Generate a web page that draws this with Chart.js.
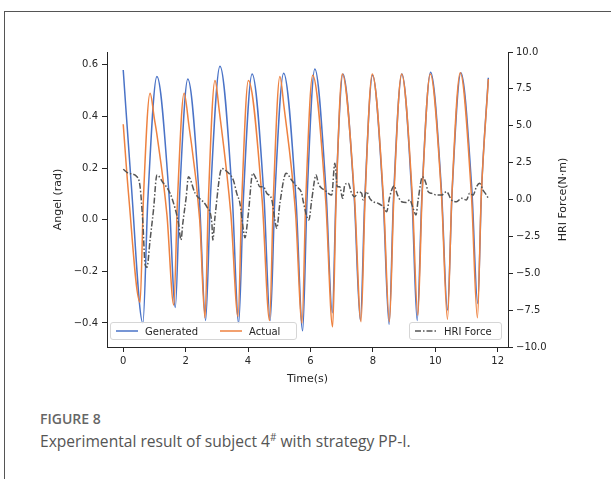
<!DOCTYPE html>
<html>
<head>
<meta charset="utf-8">
<script src="https://cdn.jsdelivr.net/npm/chart.js@4.4.1/dist/chart.umd.min.js"></script>
<style>
  html, body { margin: 0; padding: 0; background: #fff; }
  body { width: 611px; height: 479px; position: relative; overflow: hidden; font-family: "DejaVu Sans", sans-serif; }
  #frame { position: absolute; left: 4px; top: 11px; width: 700px; height: 600px; border-top: 1px solid #555; border-left: 1px solid #555; }
  #wrap { position: absolute; left: 0; top: 0; width: 611px; height: 400px; }
  .legend { position: absolute; height: 18px; background: rgba(255,255,255,0.8); border: 1px solid #d6d6d6; border-radius: 3px; font-size: 10px; color: #262626; display: flex; align-items: center; box-sizing: border-box; }
  .legend svg { display: block; margin: 0 7px 0 5px; }
  .legend span { margin-right: 8px; }
  #fig { position: absolute; left: 40px; top: 409px; font-family: "Open Sans", sans-serif; font-size: 14px; font-weight: 600; color: #666; }
  #cap { position: absolute; left: 40px; top: 430px; font-family: "Open Sans", sans-serif; font-size: 15.6px; color: #555; white-space: nowrap; }
  #cap sup { font-size: 10px; }
</style>
</head>
<body>
<div id="frame"></div>
<div id="wrap"><canvas id="c" width="611" height="400"></canvas></div>
<div class="legend" style="left:110px; top:322px; width:187px;">
  <svg width="22" height="4"><line x1="0" y1="2" x2="22" y2="2" stroke="#4a73c7" stroke-width="1.5"/></svg><span>Generated</span>
  <svg width="22" height="4" style="margin-left:14px"><line x1="0" y1="2" x2="22" y2="2" stroke="#ee8240" stroke-width="1.5"/></svg><span>Actual</span>
</div>
<div class="legend" style="left:409px; top:322px; width:93px;">
  <svg width="22" height="4"><line x1="0" y1="2" x2="22" y2="2" stroke="#555" stroke-width="1.5" stroke-dasharray="6 2 1.5 2"/></svg><span>HRI Force</span>
</div>
<div id="fig">FIGURE 8</div>
<div id="cap">Experimental result of subject 4<sup>#</sup> with strategy PP-I.</div>
<script>
// tick values
const timeTicks = [0, 2, 4, 6, 8, 10, 12];
const angleTicks = [-0.4, -0.2, 0.0, 0.2, 0.4, 0.6];
const forceTicks = [-10, -7.5, -5, -2.5, 0, 2.5, 5, 7.5, 10];

// Generated angle (rad): peaks, troughs and flank points
const genT = [0.00, 0.25, 0.63, 0.79, 1.08, 1.46, 1.67, 1.81, 2.07, 2.44, 2.64, 2.80, 3.10, 3.49, 3.70, 3.85,
  4.13, 4.51, 4.71, 4.86, 5.14, 5.54, 5.75, 5.89, 6.14, 6.50, 6.70, 6.82, 7.04, 7.40, 7.60, 7.74, 7.99, 8.33,
  8.52, 8.66, 8.93, 9.25, 9.42, 9.57, 9.85, 10.20, 10.39, 10.54, 10.82, 11.17, 11.36, 11.48, 11.70];
const genA = [0.58, 0.15, -0.40, 0.08, 0.555, 0.11, -0.34, 0.10, 0.545, 0.08, -0.39, 0.10, 0.595, 0.10, -0.40, 0.08,
  0.565, 0.09, -0.39, 0.09, 0.568, 0.07, -0.43, 0.08, 0.584, 0.11, -0.36, 0.10, 0.565, 0.09, -0.39, 0.08, 0.56, 0.08,
  -0.405, 0.08, 0.565, 0.09, -0.39, 0.09, 0.572, 0.11, -0.35, 0.11, 0.57, 0.12, -0.325, 0.11, 0.55];

// Actual angle (rad)
const actT = [0.00, 0.17, 0.54, 0.65, 0.86, 1.00, 1.08, 1.40, 1.62, 1.74, 1.95, 2.10, 2.45, 2.62, 2.73, 2.94, 3.08,
  3.45, 3.68, 3.80, 4.01, 4.45, 4.69, 4.81, 5.02, 5.15, 5.52, 5.73, 5.85, 6.07, 6.49, 6.71, 6.82, 7.02, 7.41, 7.62,
  7.75, 7.98, 8.34, 8.53, 8.67, 8.92, 9.26, 9.44, 9.58, 9.84, 10.20, 10.39, 10.53, 10.80, 11.16, 11.35, 11.47, 11.70];
const actA = [0.37, 0.10, -0.32, 0.09, 0.49, 0.39, 0.33, 0.02, -0.33, 0.08, 0.49, 0.37, 0.00, -0.38, 0.08, 0.54, 0.42,
  0.02, -0.375, 0.08, 0.54, 0.08, -0.39, 0.08, 0.555, 0.44, 0.03, -0.40, 0.08, 0.56, 0.07, -0.415, 0.07, 0.565, 0.09, -0.395,
  0.08, 0.565, 0.08, -0.395, 0.08, 0.565, 0.10, -0.37, 0.10, 0.565, 0.09, -0.385, 0.09, 0.57, 0.09, -0.38, 0.08, 0.545];

// HRI force (N·m)
const hriT = [0.00, 0.17, 0.44, 0.54, 0.63, 0.70, 0.76, 0.86, 0.97, 1.08, 1.29, 1.45, 1.56, 1.77, 1.85, 1.91, 2.02,
  2.09, 2.30, 2.68, 2.84, 2.87, 2.94, 3.16, 3.32, 3.53, 3.64, 3.74, 3.85, 3.90, 4.01, 4.15, 4.28, 4.38, 4.49, 4.60,
  4.76, 4.86, 4.92, 5.02, 5.22, 5.40, 5.56, 5.72, 5.77, 5.95, 6.04, 6.18, 6.25, 6.36, 6.46, 6.57, 6.68, 6.78, 6.86,
  6.94, 7.03, 7.10, 7.21, 7.32, 7.42, 7.53, 7.64, 7.69, 7.80, 7.90, 8.01, 8.17, 8.33, 8.44, 8.54, 8.68, 8.79, 8.92,
  9.06, 9.18, 9.29, 9.38, 9.45, 9.59, 9.70, 9.77, 9.88, 10.04, 10.20, 10.36, 10.52, 10.68, 10.84, 11.00, 11.10,
  11.21, 11.32, 11.42, 11.53, 11.64, 11.72];
const hriF = [2.05, 1.78, 1.55, 0.87, -1.6, -4.4, -4.6, -2.75, -0.7, 1.66, 1.1, 0.64, 0.1, -1.6, -2.75, -1.6, 0.2,
  1.55, 0.44, -0.5, -1.6, -2.75, -1.2, 2.1, 1.9, 1.3, 0.4, -0.26, -2.07, -2.6, -0.94, 1.78, 1.3, 0.87, 0.87, 0.42,
  0.0, -1.4, -1.95, -0.26, 1.78, 1.3, 0.87, 0.42, -0.15, -1.39, -0.03, 1.66, 1.1, 0.76, 0.64, 0.42, 0.3, 2.45, 0.87,
  0.87, 0.08, 0.98, 1.1, 0.42, 0.19, 0.53, 0.42, -0.03, 0.53, 0.08, -0.15, -0.26, -0.49, -0.83, 0.19, 0.92, 0.3, -0.15,
  -0.2, -0.03, -0.6, -1.05, -0.03, 1.55, 1.1, 0.53, 0.42, 0.3, 0.3, 0.53, -0.03, -0.15, 0.08, -0.03, 0.42,
  0.3, 0.87, 1.1, 0.64, 0.3, 0.01];

function pts(xs, ys) {
  return xs.map((x, i) => ({ x: x, y: ys[i] }));
}
function fmt(v, d) {
  const s = Math.abs(v).toFixed(d);
  return v < 0 ? '\u2212' + s : s;
}

const tickFont = { family: 'DejaVu Sans', size: 10 };
const ink = '#262626';

// axis titles drawn matplotlib style (both vertical ones read bottom to top)
const axisTitles = {
  id: 'axisTitles',
  afterDraw(chart) {
    const ctx = chart.ctx;
    const a = chart.chartArea;
    ctx.save();
    ctx.fillStyle = ink;
    ctx.font = '11px "DejaVu Sans"';
    ctx.textAlign = 'center';
    ctx.textBaseline = 'middle';
    ctx.fillText('Time(s)', (a.left + a.right) / 2, 379);
    [['Angel (rad)', 58], ['HRI Force(N\u00b7m)', 563]].forEach(([t, x]) => {
      ctx.save();
      ctx.translate(x, (a.top + a.bottom) / 2);
      ctx.rotate(-Math.PI / 2);
      ctx.fillText(t, 0, 0);
      ctx.restore();
    });
    ctx.restore();
  }
};

new Chart(document.getElementById('c'), {
  type: 'line',
  data: {
    datasets: [{
      label: 'HRI Force',
      data: pts(hriT, hriF),
      yAxisID: 'yF',
      borderColor: '#555555',
      borderWidth: 1.5,
      borderDash: [6, 2, 1.5, 2],
      pointRadius: 0,
      cubicInterpolationMode: 'monotone'
    }, {
      label: 'Actual',
      data: pts(actT, actA),
      yAxisID: 'yA',
      borderColor: '#ee8240',
      borderWidth: 1.5,
      pointRadius: 0,
      cubicInterpolationMode: 'monotone'
    }, {
      label: 'Generated',
      data: pts(genT, genA),
      yAxisID: 'yA',
      borderColor: '#4a73c7',
      borderWidth: 1.5,
      pointRadius: 0,
      cubicInterpolationMode: 'monotone'
    }]
  },
  options: {
    responsive: false,
    animation: false,
    devicePixelRatio: 1,
    layout: { padding: { top: 52, left: 0, right: 0, bottom: 0 } },
    plugins: { legend: { display: false }, tooltip: { enabled: false } },
    scales: {
      x: {
        type: 'linear', min: -0.52, max: 12.33,
        afterFit: s => { s.height = 53; },
        afterBuildTicks: s => { s.ticks = timeTicks.map(v => ({ value: v })); },
        grid: { drawOnChartArea: false, tickLength: 5, color: ink },
        border: { color: ink, width: 1 },
        ticks: { font: tickFont, color: ink, padding: 3, maxRotation: 0, callback: v => String(v) }
      },
      yA: {
        position: 'left', min: -0.493, max: 0.65,
        afterFit: s => { s.width = 107; },
        afterBuildTicks: s => { s.ticks = angleTicks.map(v => ({ value: v })); },
        grid: { drawOnChartArea: false, tickLength: 5, color: ink },
        border: { color: ink, width: 1 },
        ticks: { font: tickFont, color: ink, padding: 4, callback: v => fmt(v, 1) }
      },
      yF: {
        position: 'right', min: -10, max: 10,
        afterFit: s => { s.width = 103; },
        afterBuildTicks: s => { s.ticks = forceTicks.map(v => ({ value: v })); },
        grid: { drawOnChartArea: false, tickLength: 5, color: ink },
        border: { color: ink, width: 1 },
        ticks: { font: tickFont, color: ink, padding: 3, callback: v => fmt(v, 1) }
      }
    }
  },
  plugins: [axisTitles]
});
</script>
</body>
</html>
